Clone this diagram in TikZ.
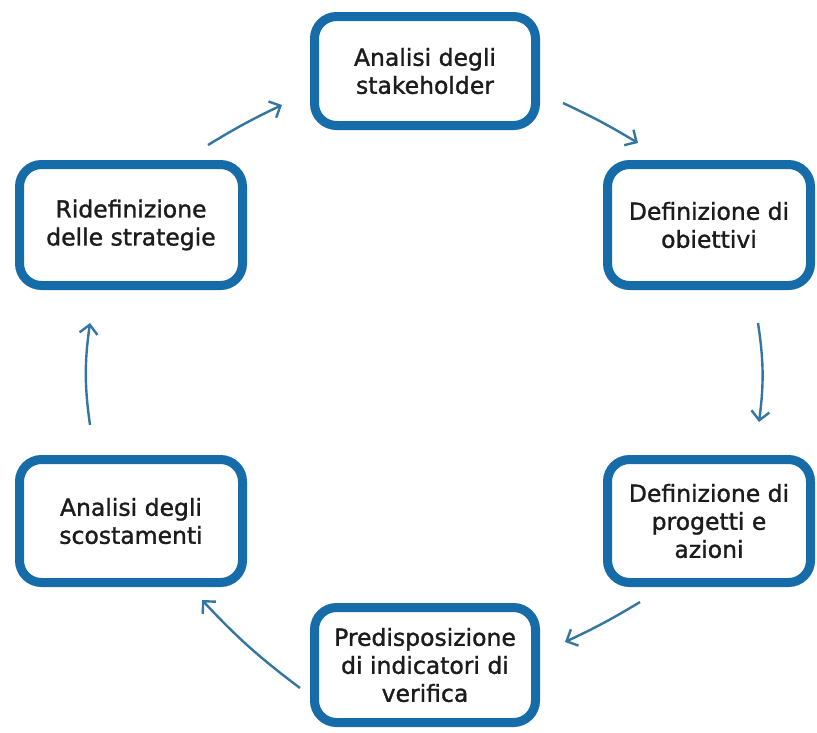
\documentclass[tikz,border=0pt]{standalone}
\usepackage{fontspec}
\setmainfont{DejaVu Sans}
\font\boxfnt="DejaVu Sans:embolden=1.3" at 23.5pt
\newcommand\boxfontsel{\boxfnt\baselineskip=28pt\relax}
\usetikzlibrary{arrows.meta}
\definecolor{boxblue}{RGB}{22,108,168}
\definecolor{arrowblue}{RGB}{52,118,160}
\definecolor{txt}{RGB}{28,28,28}
\begin{document}
\begin{tikzpicture}[x=1pt,y=-1pt,
  stage/.style={draw=boxblue, line width=9pt, rounded corners=22pt, fill=white,
    align=center, text=txt, inner sep=0pt,
    font=\boxfontsel},
  flow/.style={draw=arrowblue, line width=2.4pt,
    -{Straight Barb[length=9pt,width=18pt]}, bend left=#1},
  flow/.default=5]
\useasboundingbox (0,0) rectangle (817,732);
\fill[white] (0,0) rectangle (817,732);
\node[stage, minimum width=221pt, minimum height=109pt] (a) at (425,71) {Analisi degli\\stakeholder};
\node[stage, minimum width=203pt, minimum height=121pt] (b) at (709,225) {Definizione di\\obiettivi};
\node[stage, minimum width=203pt, minimum height=123pt] (c) at (709,521) {Definizione di\\progetti e\\azioni};
\node[stage, minimum width=221pt, minimum height=115pt] (d) at (425,665) {Predisposizione\\di indicatori di\\verifica};
\node[stage, minimum width=223pt, minimum height=123pt] (e) at (131,521) {Analisi degli\\scostamenti};
\node[stage, minimum width=223pt, minimum height=121pt] (f) at (131,225) {Ridefinizione\\delle strategie};
\coordinate (ab1) at (563,103); \coordinate (ab2) at (638,143);
\coordinate (bc1) at (758,323); \coordinate (bc2) at (759,422);
\coordinate (cd1) at (640,602); \coordinate (cd2) at (565,642);
\coordinate (de1) at (300,688); \coordinate (de2) at (202,600);
\coordinate (ef1) at (90,425);  \coordinate (ef2) at (90,323);
\coordinate (fa1) at (208,145); \coordinate (fa2) at (282,105);
\draw[flow=3] (ab1) to (ab2);
\draw[flow=8] (bc1) to (bc2);
\draw[flow=3] (cd1) to (cd2);
\draw[flow=5] (de1) to (de2);
\draw[flow=8] (ef1) to (ef2);
\draw[flow=3] (fa1) to (fa2);
\end{tikzpicture}
\end{document}
